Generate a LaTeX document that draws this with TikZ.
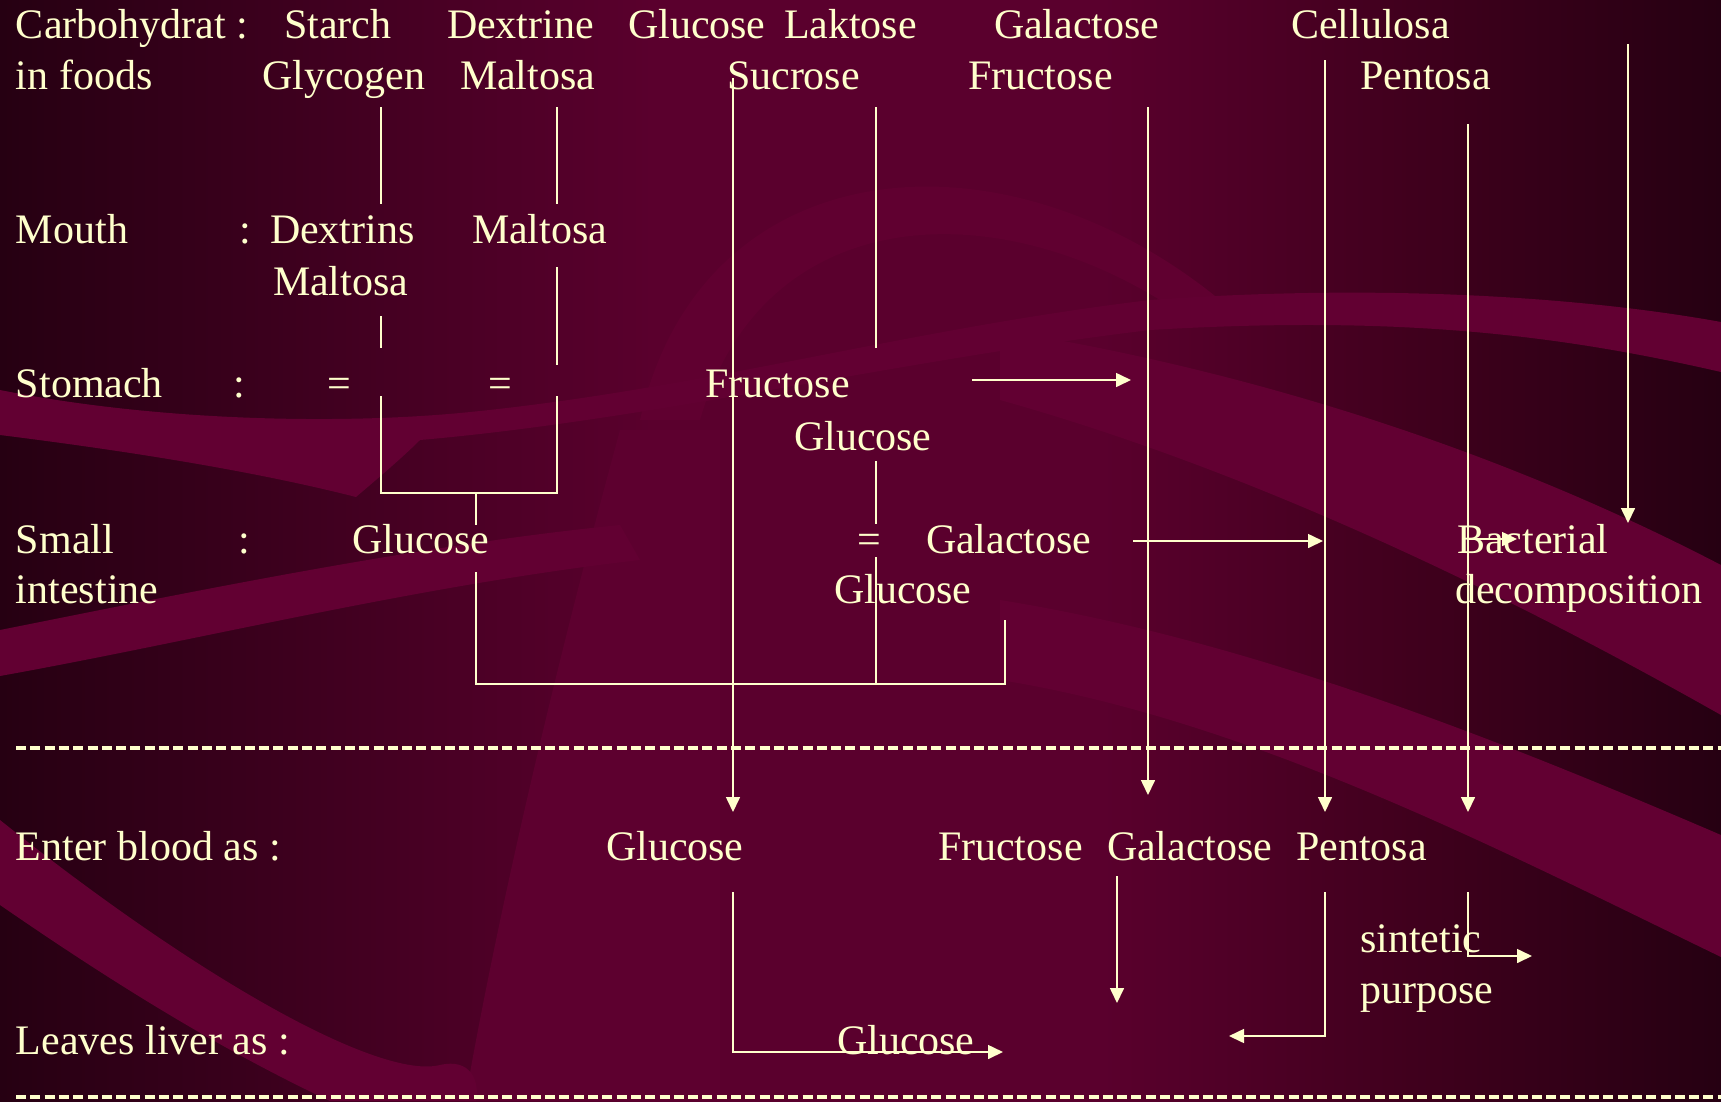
\documentclass[tikz,border=0pt]{standalone}
\usepackage{fontspec}
\setmainfont{Liberation Serif}
\usetikzlibrary{arrows.meta}
\definecolor{cream}{HTML}{FFFFCC}
\definecolor{bgdark}{HTML}{260012}
\definecolor{bgmid}{HTML}{5A002D}
\definecolor{bgdeep}{HTML}{40001D}
\definecolor{bglight}{HTML}{620032}
\definecolor{bgsoft}{HTML}{600030}
\definecolor{bgwedge}{HTML}{5D002F}
\pgfdeclarehorizontalshading{bgshade}{100bp}{color(0bp)=(bgdark); color(25bp)=(bgdark); color(44bp)=(bgmid); color(57bp)=(bgmid); color(66bp)=(bgdeep); color(75bp)=(bgdark); color(100bp)=(bgdark)}
\begin{document}
\begin{tikzpicture}[x=1pt,y=-1pt,
  lbl/.style={anchor=base west,inner sep=0pt,outer sep=0pt,text=cream,font=\fontsize{42}{50}\selectfont},
  ln/.style={draw=cream,line width=1.6pt},
  arr/.style={ln,-{Triangle[width=14pt,length=15pt]}},
  dsh/.style={draw=cream,line width=3.2pt,dash pattern=on 10pt off 4.3pt}]
\useasboundingbox (0,0) rectangle (1721,1101);
% background
\shade[shading=bgshade] (0,0) rectangle (1721,1101);
\begin{scope}
\clip (0,0) rectangle (1721,1101);
% lighter middle wedge
\fill[bgwedge] (620,430) .. controls (560,650) and (500,900) .. (465,1101) -- (720,1101) -- (720,430) -- cycle;
% dome arc (subtle)
\fill[bgsoft] (640,420) .. controls (700,150) and (1000,120) .. (1220,300) -- (1160,300) .. controls (980,190) and (760,210) .. (700,420) -- cycle;
% upper-left swoosh with tip
\fill[bglight] (0,390) .. controls (150,420) and (330,425) .. (460,413) .. controls (700,390) and (900,330) .. (1150,300) -- (1150,330) .. controls (900,360) and (650,420) .. (420,440) .. controls (400,460) and (370,485) .. (356,497) .. controls (250,470) and (120,450) .. (0,435) -- cycle;
% band across the right top
\fill[bglight] (1150,300) .. controls (1400,282) and (1600,300) .. (1721,322) -- (1721,372) .. controls (1560,335) and (1400,315) .. (1150,330) -- cycle;
% left lower band
\fill[bglight] (0,630) .. controls (200,590) and (420,545) .. (620,525) -- (640,560) .. controls (420,585) and (200,640) .. (0,676) -- cycle;
% big lower-left swoosh
\fill[bglight] (0,820) .. controls (200,980) and (380,1080) .. (440,1065) .. controls (470,1058) and (480,1080) .. (476,1101) -- (330,1101) .. controls (200,1040) and (80,960) .. (0,905) -- cycle;
% right diagonal bands
\fill[bglight] (1000,330) .. controls (1250,370) and (1500,450) .. (1721,565) -- (1721,715) .. controls (1500,590) and (1250,470) .. (1000,400) -- cycle;
\fill[bglight] (1000,600) .. controls (1250,640) and (1500,740) .. (1721,835) -- (1721,957) .. controls (1500,850) and (1250,720) .. (1000,680) -- cycle;
\end{scope}
% texts
\node[lbl] (carb) at (16,38) {Carbohydrat :};
\node[lbl] (starch) at (284,38) {Starch};
\node[lbl] (dextrine) at (447,38) {Dextrine};
\node[lbl] (glc0) at (628,38) {Glucose};
\node[lbl] (lak) at (784,38) {Laktose};
\node[lbl] (gal0) at (994,38) {Galactose};
\node[lbl] (cell) at (1291,38) {Cellulosa};
\node[lbl] (infoods) at (16,89) {in foods};
\node[lbl] (glyc) at (262,89) {Glycogen};
\node[lbl] (malt0) at (460,89) {Maltosa};
\node[lbl] (sucr) at (727,89) {Sucrose};
\node[lbl] (fru0) at (968,89) {Fructose};
\node[lbl] (pen0) at (1360,89) {Pentosa};
\node[lbl] (mouth) at (16,243) {Mouth};
\node[lbl] (mcolon) at (239,243) {:};
\node[lbl] (dexs) at (270,243) {Dextrins};
\node[lbl] (malt1) at (472,243) {Maltosa};
\node[lbl] (malt2) at (273,295) {Maltosa};
\node[lbl] (stom) at (16,397) {Stomach};
\node[lbl] (scolon) at (233,397) {:};
\node[lbl] (eq1) at (327,397) {=};
\node[lbl] (eq2) at (488,397) {=};
\node[lbl] (fru1) at (705,397) {Fructose};
\node[lbl] (glc1) at (794,450) {Glucose};
\node[lbl] (small) at (16,553) {Small};
\node[lbl] (icolon) at (238,553) {:};
\node[lbl] (glc2) at (352,553) {Glucose};
\node[lbl] (eq3) at (857,553) {=};
\node[lbl] (gal1) at (926,553) {Galactose};
\node[lbl] (bact) at (1457,553) {Bacterial};
\node[lbl] (intest) at (16,603) {intestine};
\node[lbl] (glc3) at (834,603) {Glucose};
\node[lbl] (decomp) at (1455,603) {decomposition};
\node[lbl] (enter) at (16,860) {Enter blood as :};
\node[lbl] (bglc) at (606,860) {Glucose};
\node[lbl] (bfru) at (938,860) {Fructose};
\node[lbl] (bgal) at (1107,860) {Galactose};
\node[lbl] (bpen) at (1296,860) {Pentosa};
\node[lbl] (sint) at (1360,952) {sintetic};
\node[lbl] (purp) at (1360,1003) {purpose};
\node[lbl] (leaves) at (16,1054) {Leaves liver as :};
\node[lbl] (lglc) at (837,1054) {Glucose};
% coordinates
\coordinate (a1) at (381,107); \coordinate (a2) at (381,204);
\coordinate (b1) at (557,107); \coordinate (b2) at (557,204);
\coordinate (a3) at (381,316); \coordinate (a4) at (381,348);
\coordinate (b3) at (557,267); \coordinate (b4) at (557,365);
\coordinate (a5) at (381,396); \coordinate (a6) at (381,493);
\coordinate (b5) at (557,396); \coordinate (b6) at (557,493);
\coordinate (c1) at (476,493); \coordinate (c2) at (476,525);
\coordinate (c3) at (476,572); \coordinate (c4) at (476,684);
\coordinate (c5) at (1005,684); \coordinate (c6) at (1005,620);
\coordinate (d1) at (876,107); \coordinate (d2) at (876,348);
\coordinate (d3) at (876,461); \coordinate (d4) at (876,524);
\coordinate (d5) at (876,557); \coordinate (d6) at (876,684);
\coordinate (g1) at (733,78); \coordinate (g2) at (733,812);
\coordinate (f1) at (1148,107); \coordinate (f2) at (1148,795);
\coordinate (h1) at (1325,60); \coordinate (h2) at (1325,812);
\coordinate (p1) at (1468,124); \coordinate (p2) at (1468,812);
\coordinate (k1) at (1628,44); \coordinate (k2) at (1628,523);
\coordinate (s1) at (972,380); \coordinate (s2) at (1131,380);
\coordinate (t1) at (1133,541); \coordinate (t2) at (1323,541);
\coordinate (u1) at (1469,539); \coordinate (u2) at (1517,539);
\coordinate (v1) at (1117,876); \coordinate (v2) at (1117,1003);
\coordinate (w1) at (1325,892); \coordinate (w2) at (1325,1036); \coordinate (w3) at (1229,1036);
\coordinate (x1) at (1468,892); \coordinate (x2) at (1468,956); \coordinate (x3) at (1532,956);
\coordinate (y1) at (733,892); \coordinate (y2) at (733,1052); \coordinate (y3) at (1003,1052);
\coordinate (dl1) at (16,748); \coordinate (dl2) at (1721,748);
\coordinate (dl3) at (16,1097); \coordinate (dl4) at (1721,1097);
% connectors
\draw[ln] (a1) -- (a2);
\draw[ln] (b1) -- (b2);
\draw[ln] (a3) -- (a4);
\draw[ln] (b3) -- (b4);
\draw[ln] (a5) -- (a6) -- (b6) -- (b5);
\draw[ln] (c1) -- (c2);
\draw[ln] (c3) -- (c4) -- (c5) -- (c6);
\draw[ln] (d1) -- (d2);
\draw[ln] (d3) -- (d4);
\draw[ln] (d5) -- (d6);
\draw[arr] (g1) -- (g2);
\draw[arr] (f1) -- (f2);
\draw[arr] (h1) -- (h2);
\draw[arr] (p1) -- (p2);
\draw[arr] (k1) -- (k2);
\draw[arr] (s1) -- (s2);
\draw[arr] (t1) -- (t2);
\draw[arr] (u1) -- (u2);
\draw[arr] (v1) -- (v2);
\draw[arr] (w1) -- (w2) -- (w3);
\draw[arr] (x1) -- (x2) -- (x3);
\draw[arr] (y1) -- (y2) -- (y3);
\draw[dsh] (dl1) -- (dl2);
\draw[dsh] (dl3) -- (dl4);
\end{tikzpicture}
\end{document}
